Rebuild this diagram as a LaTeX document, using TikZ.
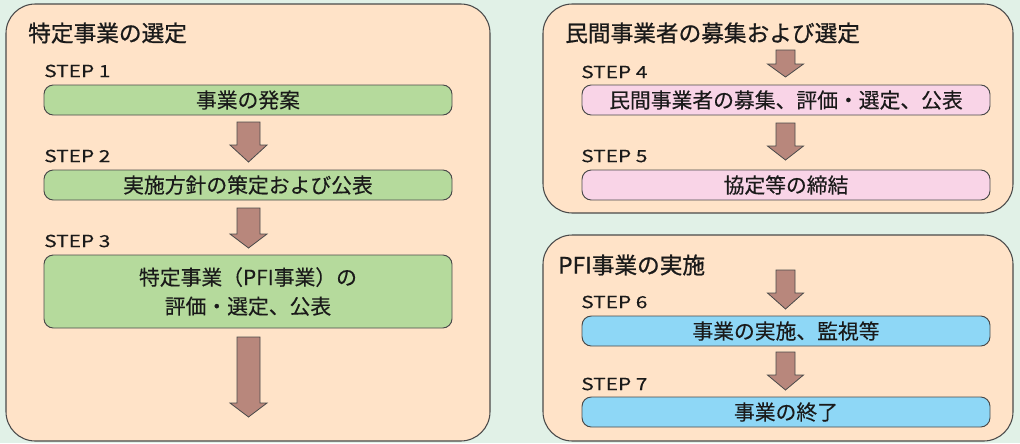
\documentclass[tikz,border=0pt]{standalone}
\usepackage{fontspec}
\setmainfont{Noto Sans CJK JP}[FakeBold=0.25]
\newfontfamily\stepfont{Noto Sans CJK JP}[FakeStretch=1.25,FakeBold=0.25]
\newfontfamily\titlefont{Noto Sans CJK JP}[FakeBold=0.8]
\definecolor{bgc}{HTML}{E1F1E7}
\definecolor{panelc}{HTML}{FFE3C8}
\definecolor{gboxc}{HTML}{B5DA9C}
\definecolor{pboxc}{HTML}{F9D4E7}
\definecolor{bboxc}{HTML}{8ED7F6}
\definecolor{arrc}{HTML}{B8877C}
\definecolor{edgec}{HTML}{4A4A4A}
\definecolor{txtc}{HTML}{1A1A1A}
\newcommand{\pxu}{0.75pt}
\newcommand{\blkarrow}[6]{%
  \draw[arrowst] (#1-#5,#2) -- (#1+#5,#2) -- (#1+#5,#3) -- (#1+#6,#3) -- (#1,#4)
    -- (#1-#6,#3) -- (#1-#5,#3) -- cycle;}
\begin{document}
\begin{tikzpicture}[x=0.75pt,y=-0.75pt,
  panelst/.style={draw=edgec, line width=0.8pt, fill=panelc, rounded corners=22pt},
  boxst/.style={draw=edgec, line width=0.7pt, rounded corners=7pt, inner sep=0pt,
    minimum width=408*\pxu, minimum height=30*\pxu, text=txtc,
    font=\fontsize{15.6pt}{21.75pt}\selectfont, align=center},
  titlest/.style={anchor=west, inner sep=0pt, text=txtc, font=\titlefont\fontsize{17pt}{20pt}\selectfont},
  stepst/.style={anchor=west, inner sep=0pt, text=txtc, font=\stepfont\fontsize{12.5pt}{14pt}\selectfont},
  arrowst/.style={draw=edgec, line width=0.6pt, fill=arrc, line join=miter}]
\fill[bgc] (0,0) rectangle (1020,443);
\useasboundingbox (0,0) rectangle (1020,443);
% panels
\draw[panelst] (6,4) rectangle (490,441);
\draw[panelst] (543,4) rectangle (1013,213);
\draw[panelst] (543,235) rectangle (1013,441);
% left panel
\node[titlest] (t1) at (28,33) {特定事業の選定};
\node[stepst] (l1) at (44,71) {STEP 1};
\node[boxst, fill=gboxc] (s1) at (248,100) {事業の発案};
\blkarrow{248.5}{122}{145}{162}{11.5}{18.5}
\node[stepst] (l2) at (44,156) {STEP 2};
\node[boxst, fill=gboxc] (s2) at (248,185) {実施方針の策定および公表};
\blkarrow{248.5}{208}{234}{248}{11.5}{18.5}
\node[stepst] (l3) at (44,241) {STEP 3};
\node[boxst, fill=gboxc, minimum height=73*\pxu] (s3) at (248,291.5) {特定事業（PFI事業）の\\評価・選定、公表};
\blkarrow{248.5}{337}{403}{417}{11.5}{18.5}
% right top panel
\node[titlest] (t2) at (565,33) {民間事業者の募集および選定};
\blkarrow{785.5}{50}{64}{77}{9.5}{18}
\node[stepst] (l4) at (581,72) {STEP 4};
\node[boxst, fill=pboxc] (s4) at (786,100) {民間事業者の募集、評価・選定、公表};
\blkarrow{785.5}{123}{146}{160}{9.5}{18}
\node[stepst] (l5) at (581,156) {STEP 5};
\node[boxst, fill=pboxc] (s5) at (786,185) {協定等の締結};
% right bottom panel
\node[titlest] (t3) at (558,265) {PFI事業の実施};
\blkarrow{785.5}{270}{293}{309}{9.5}{18}
\node[stepst] (l6) at (581,302) {STEP 6};
\node[boxst, fill=bboxc] (s6) at (786,331) {事業の実施、監視等};
\blkarrow{785.5}{352}{375}{390}{9.5}{18}
\node[stepst] (l7) at (581,384) {STEP 7};
\node[boxst, fill=bboxc] (s7) at (786,412) {事業の終了};
\end{tikzpicture}
\end{document}
